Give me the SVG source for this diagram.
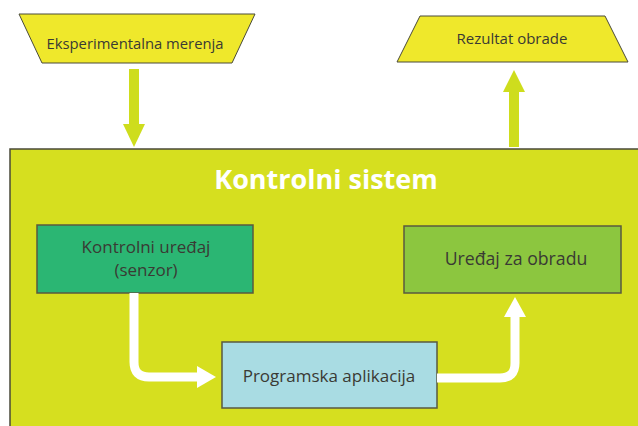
<svg xmlns="http://www.w3.org/2000/svg" width="638" height="426" viewBox="0 0 638 426">
<style>
  .lbl { font-family: "Open Sans", "Liberation Sans", sans-serif; font-size: 17px; fill: #3a3a34; text-anchor: middle; }
  .io { fill: #efe82b; stroke: #4a4a3a; stroke-width: 1; }
  .box { stroke: #5a5a40; stroke-width: 1.5; }
  .flow { fill: none; stroke: #ffffff; stroke-width: 9; stroke-linejoin: round; }
  .head { fill: #ffffff; }
  .yarrow { fill: #cedd1d; }
</style>
<rect width="638" height="426" fill="#ffffff"/>
<g id="kontrolni-sistem">
  <rect x="10" y="149" width="640" height="290" fill="#d6df1f" stroke="#4a4a3a" stroke-width="1.5"/>
  <text x="326" y="189" font-family="'Open Sans', 'Liberation Sans', sans-serif" font-size="27" font-weight="bold" fill="#ffffff" text-anchor="middle">Kontrolni sistem</text>
</g>
<g id="eksperimentalna-merenja">
  <polygon class="io" points="19,14 255,14 232,63 42,63"/>
  <text class="lbl" x="135" y="49" style="font-size:14.8px">Eksperimentalna merenja</text>
</g>
<g id="rezultat-obrade">
  <polygon class="io" points="420,16 605,16 628,62 397,62"/>
  <text class="lbl" x="512" y="44" style="font-size:15px">Rezultat obrade</text>
</g>
<g id="kontrolni-uredjaj">
  <rect class="box" x="37" y="225" width="216" height="68" fill="#2bb673"/>
  <text class="lbl" x="146" y="253">Kontrolni uređaj</text>
  <text class="lbl" x="146" y="276">(senzor)</text>
</g>
<g id="uredjaj-za-obradu">
  <rect class="box" x="404" y="226" width="217" height="67" fill="#8cc63f"/>
  <text class="lbl" x="516" y="265" style="font-size:17.7px">Uređaj za obradu</text>
</g>
<g id="programska-aplikacija">
  <rect class="box" x="222" y="342" width="215" height="66" fill="#a9dce3"/>
  <text class="lbl" x="329" y="382">Programska aplikacija</text>
</g>
<g id="connectors">
  <rect class="yarrow" x="129" y="69" width="10" height="56"/>
  <polygon class="yarrow" points="123,124 145,124 134,147"/>
  <rect class="yarrow" x="509" y="91" width="10" height="56"/>
  <polygon class="yarrow" points="503,92 525,92 514,70"/>
  <path class="flow" d="M134,293 V362 Q134,377 149,377 H199"/>
  <polygon class="head" points="197,366 197,388 216,377"/>
  <path class="flow" d="M437,378 H500 Q515,378 515,363 V315"/>
  <polygon class="head" points="504,317 526,317 515,297"/>
</g>
</svg>
